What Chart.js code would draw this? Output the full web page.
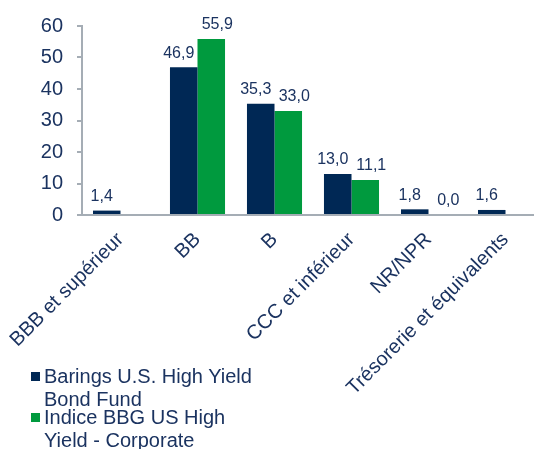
<!DOCTYPE html>
<html>
<head>
<meta charset="utf-8">
<script src="https://cdn.jsdelivr.net/npm/chart.js@4/dist/chart.umd.min.js"></script>
<style>
    html, body { margin: 0; padding: 0; background: #fff; overflow: hidden; }
    #wrap { position: relative; width: 546px; height: 449px; }
    .legend-item {
        position: absolute;
        left: 44px;
        width: 216px;
        font: 20px "Liberation Sans", Arial, sans-serif;
        line-height: 23px;
        color: #1b3360;
    }
    .legend-item span {
        position: absolute;
        left: -13px;
        top: 7px;
        width: 9px;
        height: 9px;
    }
</style>
</head>
<body>
<div id="wrap">
    <canvas id="chart" width="546" height="449"></canvas>
    <div id="legend"></div>
</div>
<script>
const categories = ['BBB et supérieur', 'BB', 'B', 'CCC et inférieur', 'NR/NPR', 'Trésorerie et équivalents'];
const fundValues = [1.4, 46.9, 35.3, 13.0, 1.8, 1.6];
const indexValues = [null, 55.9, 33.0, 11.1, 0.0, null];
const seriesNames = ['Barings U.S. High Yield Bond Fund', 'Indice BBG US High Yield - Corporate'];
const yTicks = [0, 10, 20, 30, 40, 50, 60];

const navy = '#002855';
const green = '#009a3e';
const textColor = '#1b3360';
const axisColor = '#a5adb5';
const fontFamily = '"Liberation Sans", Arial, sans-serif';

// value labels above bars, french decimal comma
// labels spread a little apart inside each group, as in the original
const labelShift = [-5, 6];
const valueLabels = {
    id: 'valueLabels',
    afterDatasetsDraw(chart) {
        const ctx = chart.ctx;
        ctx.save();
        ctx.font = '16px ' + fontFamily;
        ctx.fillStyle = textColor;
        ctx.textAlign = 'center';
        ctx.textBaseline = 'bottom';
        chart.data.datasets.forEach((ds, i) => {
            chart.getDatasetMeta(i).data.forEach((bar, j) => {
                const v = ds.data[j];
                if (v === null) return;
                ctx.fillText(v.toFixed(1).replace('.', ','), bar.x + labelShift[i], bar.y - 6);
            });
        });
        ctx.restore();
    }
};

let initChart = () => {
    const chartData = {
        labels: categories,
        datasets: [
            { label: seriesNames[0], data: fundValues, backgroundColor: navy },
            { label: seriesNames[1], data: indexValues, backgroundColor: green }
        ]
    };

    const chartOptions = {
        responsive: false,
        animation: false,
        layout: { padding: { top: 26, right: 2, left: 0, bottom: 0 } },
        datasets: {
            bar: { categoryPercentage: 0.715, barPercentage: 1 }
        },
        plugins: {
            legend: { display: false },
            tooltip: { enabled: false }
        },
        scales: {
            x: {
                grid: { drawOnChartArea: false, drawTicks: false },
                border: { color: axisColor, width: 2 },
                ticks: {
                    autoSkip: false,
                    minRotation: 45,
                    maxRotation: 45,
                    padding: 13,
                    color: textColor,
                    font: { family: fontFamily, size: 20 }
                },
                afterFit: s => {
                    s.height = 234;
                    // rotated labels may run off the left edge, keep the plot where it is
                    s.paddingLeft = 0;
                    s.paddingRight = 0;
                }
            },
            y: {
                min: 0,
                max: 60,
                afterBuildTicks: s => { s.ticks = yTicks.map(v => ({ value: v })); },
                grid: { drawOnChartArea: false, tickLength: 5, color: axisColor, lineWidth: 2 },
                border: { color: axisColor, width: 2 },
                ticks: {
                    padding: 14,
                    color: textColor,
                    font: { family: fontFamily, size: 20 }
                },
                afterFit: s => {
                    s.width = 82;
                    s.paddingTop = 0;
                    s.paddingBottom = 0;
                }
            }
        }
    };

    new Chart(document.getElementById('chart'), {
        type: 'bar',
        data: chartData,
        options: chartOptions,
        plugins: [valueLabels]
    });
};

// html legend, wraps like the original
let buildLegend = () => {
    const tops = [365, 406];
    const colors = [navy, green];
    const box = document.getElementById('legend');
    seriesNames.forEach((name, i) => {
        const item = document.createElement('div');
        item.className = 'legend-item';
        item.style.top = tops[i] + 'px';
        const sq = document.createElement('span');
        sq.style.background = colors[i];
        item.appendChild(sq);
        item.appendChild(document.createTextNode(name));
        box.appendChild(item);
    });
};

initChart();
buildLegend();
</script>
</body>
</html>
